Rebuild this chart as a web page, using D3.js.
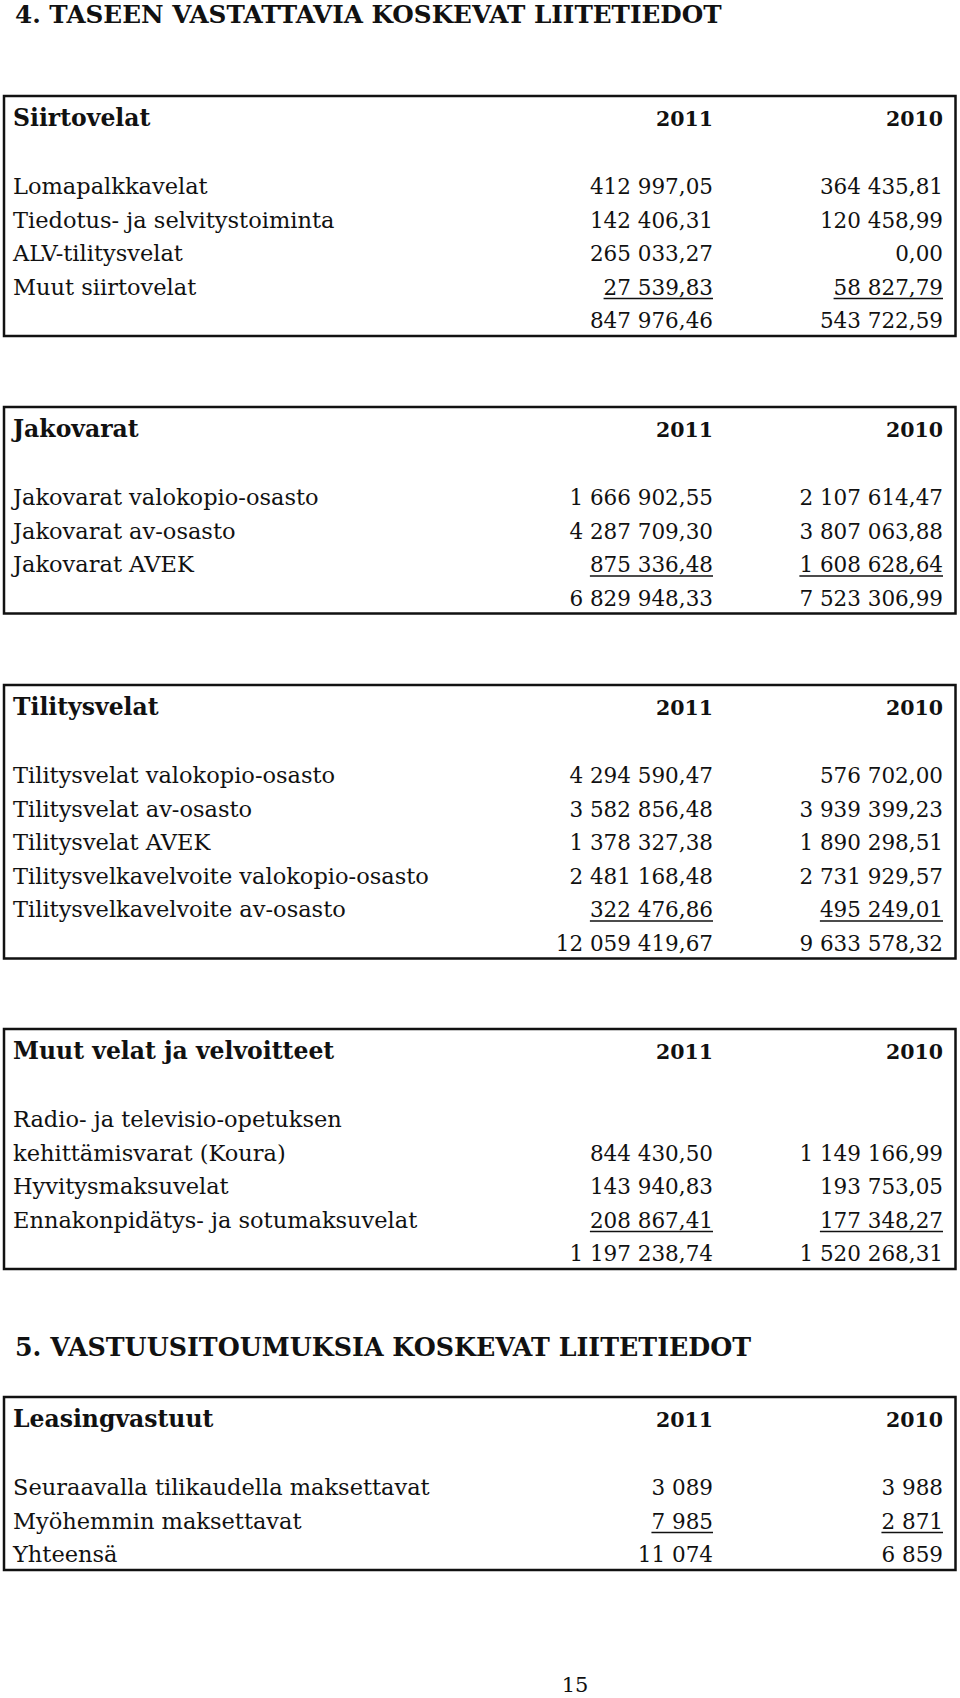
<!DOCTYPE html>
<html>
<head>
<meta charset="utf-8">
<script src="https://cdn.jsdelivr.net/npm/d3@7"></script>
<style>
  body { margin: 0; background: #fff; }
  svg text { font-family: "DejaVu Serif", serif; fill: #111; }
</style>
</head>
<body>
<svg width="960" height="1698"></svg>
<script>
// column headers
var years = ["2011", "2010"];

// Siirtovelat
var siirtoRows = ["Lomapalkkavelat", "Tiedotus- ja selvitystoiminta", "ALV-tilitysvelat", "Muut siirtovelat"];
var siirto2011 = [412997.05, 142406.31, 265033.27, 27539.83];
var siirto2010 = [364435.81, 120458.99, 0.0, 58827.79];
var siirtoTotal = [847976.46, 543722.59];

// Jakovarat
var jakoRows = ["Jakovarat valokopio-osasto", "Jakovarat av-osasto", "Jakovarat AVEK"];
var jako2011 = [1666902.55, 4287709.3, 875336.48];
var jako2010 = [2107614.47, 3807063.88, 1608628.64];
var jakoTotal = [6829948.33, 7523306.99];

// Tilitysvelat
var tiliRows = ["Tilitysvelat valokopio-osasto", "Tilitysvelat av-osasto", "Tilitysvelat AVEK",
  "Tilitysvelkavelvoite valokopio-osasto", "Tilitysvelkavelvoite av-osasto"];
var tili2011 = [4294590.47, 3582856.48, 1378327.38, 2481168.48, 322476.86];
var tili2010 = [576702.0, 3939399.23, 1890298.51, 2731929.57, 495249.01];
var tiliTotal = [12059419.67, 9633578.32];

// Muut velat ja velvoitteet
var muutRows = ["Radio- ja televisio-opetuksen", "kehittämisvarat (Koura)", "Hyvitysmaksuvelat",
  "Ennakonpidätys- ja sotumaksuvelat"];
var muut2011 = [null, 844430.5, 143940.83, 208867.41];
var muut2010 = [null, 1149166.99, 193753.05, 177348.27];
var muutTotal = [1197238.74, 1520268.31];

// Leasingvastuut
var leasRows = ["Seuraavalla tilikaudella maksettavat", "Myöhemmin maksettavat"];
var leas2011 = [3089, 7985];
var leas2010 = [3988, 2871];
var leasTotal = [11074, 6859];

var fi = d3.formatLocale({ decimal: ",", thousands: " ", grouping: [3], currency: ["", ""] });
var fmt2 = fi.format(",.2f"),
  fmt0 = fi.format(",.0f");

var svg = d3.select("svg");
svg.append("rect").attr("width", 960).attr("height", 1698).attr("fill", "#fff");

var boxLeft = 4,
  boxRight = 955.5,
  labelX = 13,
  rowStep = 33.5,
  labelSize = 22.5,
  numSize = 21.5;

var colX = d3.scaleOrdinal().domain(years).range([713, 943]);

function sectionTitle(txt, y, size) {
  svg.append("text")
    .attr("x", 15)
    .attr("y", y)
    .attr("font-size", size + "px")
    .attr("font-weight", "bold")
    .text(txt);
}

function table(opt) {
  var n = opt.rows.length;
  var rowY = d3.scaleLinear().domain([0, 1]).range([opt.top + 98, opt.top + 98 + rowStep]);
  var g = svg.append("g");

  //box
  g.append("rect")
    .attr("x", boxLeft)
    .attr("y", opt.top)
    .attr("width", boxRight - boxLeft)
    .attr("height", rowY(n) + 8 - opt.top)
    .attr("fill", "none")
    .attr("stroke", "#111")
    .attr("stroke-width", 2.5);

  //header
  g.append("text")
    .attr("x", labelX)
    .attr("y", opt.top + 30)
    .attr("font-size", "23.5px")
    .attr("font-weight", "bold")
    .text(opt.title);
  g.selectAll(".yr")
    .data(years)
    .enter()
    .append("text")
    .attr("x", function (d) { return colX(d); })
    .attr("y", opt.top + 30)
    .attr("text-anchor", "end")
    .attr("font-size", "20.5px")
    .attr("font-weight", "bold")
    .text(function (d) { return d; });

  //row labels
  var labels = opt.rows.slice();
  if (opt.totalLabel) labels.push(opt.totalLabel);
  g.selectAll(".lbl")
    .data(labels)
    .enter()
    .append("text")
    .attr("x", labelX)
    .attr("y", function (d, i) { return rowY(i); })
    .attr("font-size", labelSize + "px")
    .text(function (d) { return d; });

  //values
  years.forEach(function (yr, c) {
    var vals = (c === 0 ? opt.v2011 : opt.v2010).concat([opt.total[c]]);
    var cells = vals.map(function (v, i) { return { v: v, i: i }; })
      .filter(function (d) { return d.v !== null; });
    g.selectAll(".v" + yr)
      .data(cells)
      .enter()
      .append("text")
      .attr("x", colX(yr))
      .attr("y", function (d) { return rowY(d.i); })
      .attr("text-anchor", "end")
      .attr("font-size", numSize + "px")
      .text(function (d) { return opt.fmt(d.v); })
      .each(function (d) {
        //underline the last item above the total
        if (d.i === n - 1) {
          var w = this.getComputedTextLength();
          g.append("line")
            .attr("x1", colX(yr) - w)
            .attr("x2", colX(yr))
            .attr("y1", rowY(d.i) + 4)
            .attr("y2", rowY(d.i) + 4)
            .attr("stroke", "#111")
            .attr("stroke-width", 1.5);
        }
      });
  });
}

sectionTitle("4. TASEEN VASTATTAVIA KOSKEVAT LIITETIEDOT", 23, 24.7);

table({ top: 96, title: "Siirtovelat", rows: siirtoRows, v2011: siirto2011, v2010: siirto2010, total: siirtoTotal, fmt: fmt2 });
table({ top: 407, title: "Jakovarat", rows: jakoRows, v2011: jako2011, v2010: jako2010, total: jakoTotal, fmt: fmt2 });
table({ top: 685, title: "Tilitysvelat", rows: tiliRows, v2011: tili2011, v2010: tili2010, total: tiliTotal, fmt: fmt2 });
table({ top: 1029, title: "Muut velat ja velvoitteet", rows: muutRows, v2011: muut2011, v2010: muut2010, total: muutTotal, fmt: fmt2 });

sectionTitle("5. VASTUUSITOUMUKSIA KOSKEVAT LIITETIEDOT", 1356, 25.3);

table({ top: 1397, title: "Leasingvastuut", rows: leasRows, v2011: leas2011, v2010: leas2010, total: leasTotal, fmt: fmt0, totalLabel: "Yhteensä" });

//page number
svg.append("text")
  .attr("x", 575)
  .attr("y", 1692)
  .attr("text-anchor", "middle")
  .attr("font-size", "21px")
  .text("15");
</script>
</body>
</html>
